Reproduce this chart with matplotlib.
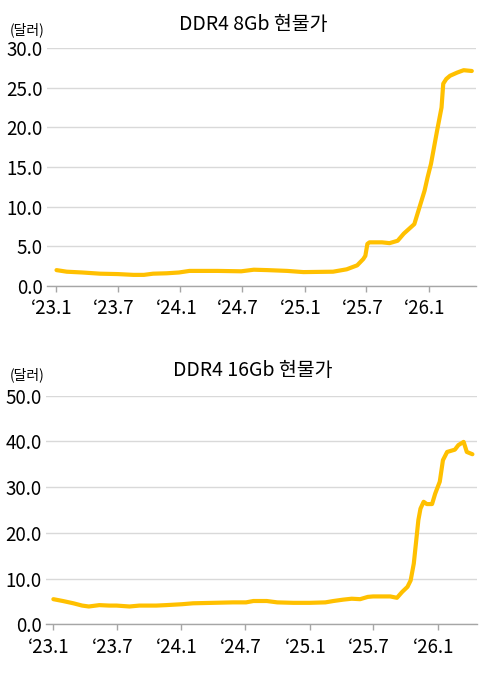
import matplotlib
matplotlib.use("Agg")
import matplotlib.pyplot as plt
import matplotlib.transforms as mtransforms
import pandas as pd

plt.rcParams['font.family'] = ['Noto Sans CJK KR', 'DejaVu Sans']

# DDR4 8Gb 현물가 (달러)
dates_8gb = ['2023-01-02', '2023-02-01', '2023-03-19', '2023-05-10', '2023-07-01',
             '2023-08-16', '2023-09-16', '2023-10-13', '2023-11-22', '2023-12-28',
             '2024-01-28', '2024-04-19', '2024-06-28', '2024-08-04', '2024-09-13',
             '2024-11-10', '2024-12-28', '2025-03-25', '2025-05-04', '2025-06-04',
             '2025-06-22', '2025-06-28', '2025-07-04', '2025-07-10', '2025-08-16',
             '2025-09-07', '2025-10-01', '2025-10-19', '2025-11-19', '2025-12-04',
             '2025-12-19', '2025-12-28', '2026-01-07', '2026-01-16', '2026-01-25',
             '2026-02-07', '2026-02-12', '2026-02-21', '2026-03-04', '2026-03-25',
             '2026-04-13', '2026-05-07']
price_8gb = [2.0, 1.8, 1.7, 1.55, 1.5,
             1.4, 1.4, 1.55, 1.6, 1.7,
             1.9, 1.9, 1.85, 2.05, 2.0,
             1.9, 1.75, 1.8, 2.1, 2.6,
             3.4, 3.8, 5.3, 5.5, 5.5,
             5.4, 5.7, 6.6, 7.8, 9.9,
             12.0, 13.7, 15.4, 17.5, 19.6,
             22.5, 25.5, 26.1, 26.5, 26.9,
             27.2, 27.1]

# DDR4 16Gb 현물가 (달러)
dates_16gb = ['2023-01-02', '2023-01-29', '2023-02-28', '2023-03-25', '2023-04-13',
              '2023-05-13', '2023-06-10', '2023-07-01', '2023-08-07', '2023-09-04',
              '2023-10-22', '2023-11-19', '2024-01-04', '2024-02-04', '2024-04-01',
              '2024-05-28', '2024-07-04', '2024-07-25', '2024-09-01', '2024-10-01',
              '2024-11-16', '2025-01-01', '2025-02-15', '2025-03-10', '2025-04-07',
              '2025-05-01', '2025-05-25', '2025-06-16', '2025-07-01', '2025-08-19',
              '2025-09-07', '2025-09-22', '2025-10-07', '2025-10-16', '2025-10-25',
              '2025-11-01', '2025-11-07', '2025-11-13', '2025-11-22', '2025-12-01',
              '2025-12-16', '2025-12-25', '2026-01-07', '2026-01-16', '2026-01-28',
              '2026-02-19', '2026-03-01', '2026-03-16', '2026-03-25', '2026-04-10']
price_16gb = [5.5, 5.1, 4.6, 4.1, 3.9,
              4.2, 4.1, 4.1, 3.9, 4.1,
              4.1, 4.2, 4.4, 4.6, 4.7,
              4.8, 4.8, 5.1, 5.1, 4.8,
              4.7, 4.7, 4.8, 5.1, 5.4,
              5.6, 5.5, 6.0, 6.1, 6.1,
              5.8, 7.1, 8.2, 9.6, 13.3,
              18.4, 22.8, 25.3, 26.8, 26.3,
              26.3, 28.6, 31.2, 35.9, 37.7,
              38.2, 39.2, 39.9, 37.7, 37.2]

tick_dates = ['2023-01-01', '2023-07-01', '2024-01-01', '2024-07-01',
              '2025-01-01', '2025-07-01', '2026-01-01']
tick_labels = ['\u201823.1', '\u201823.7', '\u201824.1', '\u201824.7',
               '\u201825.1', '\u201825.7', '\u201826.1']

LINE = '#FFC000'
GRID = '#D9D9D9'
AXIS = '#A6A6A6'
TEXT = '#000000'

fig = plt.figure(figsize=(4.93, 6.74), dpi=100)


def draw(ax, dates, values, ymax, ystep, xlim):
    ax.plot(pd.to_datetime(dates), values, color=LINE, lw=3.0,
            solid_joinstyle='round', solid_capstyle='round', zorder=3)
    n = int(ymax / ystep) + 1
    ax.set_ylim(0, ymax)
    ax.set_yticks([i * ystep for i in range(n)])
    ax.set_yticklabels([f'{i * ystep:.1f}' for i in range(n)])
    ax.set_xlim(pd.to_datetime(xlim[0]), pd.to_datetime(xlim[1]))
    ax.set_xticks(pd.to_datetime(tick_dates))
    ax.set_xticklabels(tick_labels)
    ax.grid(axis='y', color=GRID, lw=1.0, zorder=0)
    for s in ['top', 'right', 'left']:
        ax.spines[s].set_visible(False)
    ax.spines['bottom'].set_color(AXIS)
    ax.spines['bottom'].set_linewidth(1.0)
    ax.tick_params(axis='y', length=0, pad=3, labelsize=13.5, labelcolor=TEXT)
    ax.tick_params(axis='x', length=4, width=1, color=AXIS, pad=5,
                   labelsize=13.5, labelcolor=TEXT)
    # labels sit a little left of their ticks in the original
    shift = mtransforms.ScaledTranslation(-4 / 100, 0, fig.dpi_scale_trans)
    for lab in ax.get_xticklabels():
        lab.set_transform(lab.get_transform() + shift)


ax1 = fig.add_axes([0.0953, 0.5757, 0.870, 0.3531])
draw(ax1, dates_8gb, price_8gb, 30, 5, ('2022-12-05', '2026-05-19'))
fig.text(0.513, 0.963, 'DDR4 8Gb 현물가', ha='center', va='center',
         fontsize=14, color=TEXT)
fig.text(0.02, 0.9555, '(달러)', ha='left', va='center', fontsize=10, color=TEXT)

ax2 = fig.add_axes([0.0933, 0.0737, 0.8742, 0.3392])
draw(ax2, dates_16gb, price_16gb, 50, 10, ('2022-12-12', '2026-04-23'))
fig.text(0.513, 0.451, 'DDR4 16Gb 현물가', ha='center', va='center',
         fontsize=14, color=TEXT)
fig.text(0.02, 0.4436, '(달러)', ha='left', va='center', fontsize=10, color=TEXT)

fig.savefig('out.png', dpi=100, facecolor='white')
